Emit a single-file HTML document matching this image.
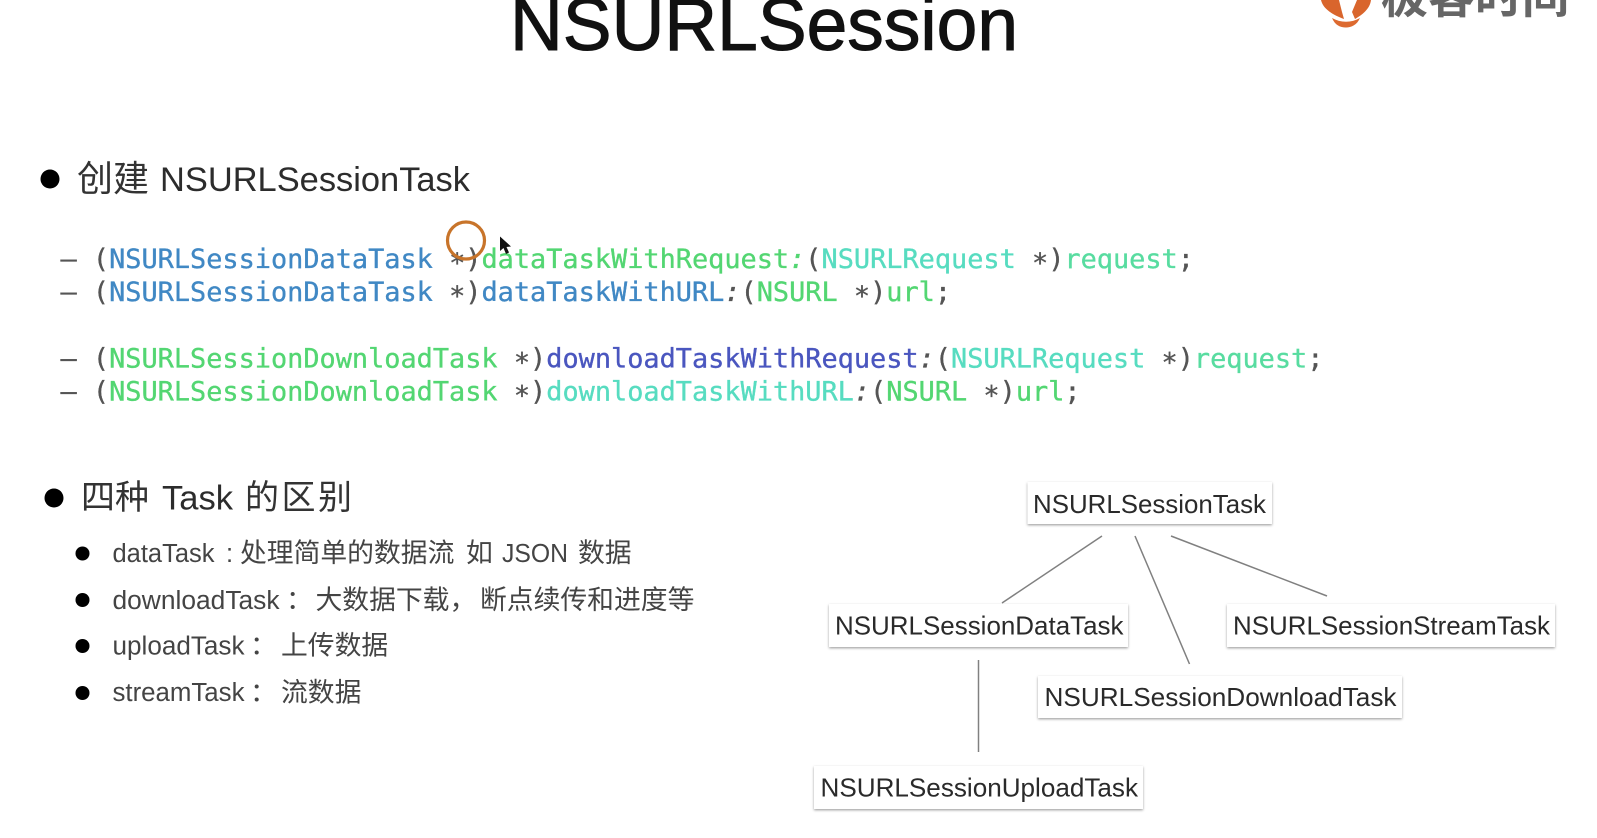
<!DOCTYPE html>
<html lang="zh">
<head>
<meta charset="utf-8">
<title>NSURLSession</title>
<style>
html,body{margin:0;padding:0;background:#fff;width:1597px;height:838px;overflow:hidden}
svg{display:block;filter:blur(.35px)}
.sans{font-family:"Liberation Sans","Noto Sans CJK SC",sans-serif}
.cjk{font-family:"Noto Sans CJK SC","WenQuanYi Zen Hei",sans-serif;font-weight:400}
.mono{font-family:"DejaVu Sans Mono","Liberation Mono",monospace;font-size:26.9px;fill:#555;stroke:#555;stroke-width:.35px}
.node{font-family:"Liberation Sans",sans-serif;font-size:26px;fill:#2a2a2a}
.h{font-size:34px;fill:#2c2c2c}
.s{font-size:25.5px;fill:#444}
.ch{font-size:34px;fill:#333}
.cs{font-size:26.8px;fill:#444}
.b{fill:#4088c4;stroke:#4088c4}.g{fill:#53d672;stroke:#53d672}.t{fill:#57dcc0;stroke:#57dcc0}.p{fill:#4a56bf;stroke:#4a56bf}.r{fill:#58dca0;stroke:#58dca0}
.c{font-style:italic}
</style>
</head>
<body>
<svg xmlns="http://www.w3.org/2000/svg" width="1597" height="838" viewBox="0 0 1597 838">
<defs>
<filter id="sh" x="-5%" y="-20%" width="110%" height="150%">
<feDropShadow dx="0" dy="1.2" stdDeviation="1.4" flood-color="#000" flood-opacity=".38"/>
</filter>
</defs>
<rect width="1597" height="838" fill="#fff"/>

<!-- Title -->
<text class="sans" x="510" y="50" font-size="74" fill="#111" stroke="#111" stroke-width="1" textLength="508" lengthAdjust="spacingAndGlyphs">NSURLSession</text>

<!-- Logo -->
<path d="M1321 0 H1371 C1370 9 1362 15 1355 19 L1352 12 L1357 0 H1339 L1342 12 L1344 19 C1333 15 1323 9 1321 0Z" fill="#d9652c"/>
<path d="M1332 18 C1341 23 1351 23 1360 18 C1357 25 1351 27.500 1346 27.500 C1340 27.500 1335 25 1332 18Z" fill="#dd6a30"/>
<text x="1381" y="13" font-family="'Noto Sans CJK SC',sans-serif" font-weight="700" font-size="47" fill="#666" textLength="188" lengthAdjust="spacingAndGlyphs">极客时间</text>

<!-- Heading 1 -->
<circle cx="50" cy="179" r="9.500" fill="#000"/>
<text class="cjk ch" x="77" y="191" style="font-size:36px">创建</text>
<text class="sans h" x="160" y="191" textLength="310" lengthAdjust="spacingAndGlyphs">NSURLSessionTask</text>

<!-- Code -->
<text class="mono" x="60.500" y="268"><tspan>– (</tspan><tspan class="b">NSURLSessionDataTask</tspan> <tspan dy="4">*</tspan><tspan dy="-4">)</tspan><tspan class="g">dataTaskWithRequest</tspan><tspan class="g c">:</tspan>(<tspan class="t">NSURLRequest</tspan> <tspan dy="4">*</tspan><tspan dy="-4">)</tspan><tspan class="r">request</tspan>;</text>
<text class="mono" x="60.500" y="301"><tspan>– (</tspan><tspan class="b">NSURLSessionDataTask</tspan> <tspan dy="4">*</tspan><tspan dy="-4">)</tspan><tspan class="b">dataTaskWithURL</tspan><tspan class="c">:</tspan>(<tspan class="g">NSURL</tspan> <tspan dy="4">*</tspan><tspan dy="-4">)</tspan><tspan class="g">url</tspan>;</text>
<text class="mono" x="60.500" y="367.500"><tspan>– (</tspan><tspan class="g">NSURLSessionDownloadTask</tspan> <tspan dy="4">*</tspan><tspan dy="-4">)</tspan><tspan class="p">downloadTaskWithRequest</tspan><tspan class="c">:</tspan>(<tspan class="t">NSURLRequest</tspan> <tspan dy="4">*</tspan><tspan dy="-4">)</tspan><tspan class="r">request</tspan>;</text>
<text class="mono" x="60.500" y="400.500"><tspan>– (</tspan><tspan class="g">NSURLSessionDownloadTask</tspan> <tspan dy="4">*</tspan><tspan dy="-4">)</tspan><tspan class="t">downloadTaskWithURL</tspan><tspan class="c">:</tspan>(<tspan class="g">NSURL</tspan> <tspan dy="4">*</tspan><tspan dy="-4">)</tspan><tspan class="g">url</tspan>;</text>

<!-- Highlight circle and cursor -->
<circle cx="466" cy="240.500" r="18.500" fill="none" stroke="#c8742a" stroke-width="3.200"/>
<path d="M500 236.500 L500 251 L503.500 248 L506 254 L509 252.500 L506.500 247 L511 246.500Z" fill="#111"/>

<!-- Heading 2 -->
<circle cx="54" cy="498" r="9.500" fill="#000"/>
<text class="cjk ch" x="81" y="509">四种</text>
<text class="sans h" x="162" y="509.500" textLength="71" lengthAdjust="spacingAndGlyphs">Task</text>
<text class="cjk ch" x="245" y="509" textLength="107" lengthAdjust="spacing">的区别</text>

<!-- Sub bullets -->
<circle cx="82.500" cy="553.500" r="7" fill="#000"/>
<text class="sans s" x="112.500" y="562" textLength="102" lengthAdjust="spacingAndGlyphs">dataTask</text>
<text class="sans s" x="226" y="562">:</text>
<text class="cjk cs" x="240" y="562">处理简单的数据流</text>
<text class="cjk cs" x="466" y="562">如</text>
<text class="sans s" x="502" y="562" textLength="66" lengthAdjust="spacingAndGlyphs">JSON</text>
<text class="cjk cs" x="578" y="562">数据</text>

<circle cx="82.500" cy="600" r="7" fill="#000"/>
<text class="sans s" x="112.500" y="609" textLength="167" lengthAdjust="spacingAndGlyphs">downloadTask</text>
<text class="cjk cs" x="286" y="609">：</text>
<text class="cjk cs" x="315.500" y="609">大数据下载，</text>
<text class="cjk cs" x="480" y="609">断点续传和进度等</text>

<circle cx="82.500" cy="646" r="7" fill="#000"/>
<text class="sans s" x="112.500" y="654.500" textLength="132" lengthAdjust="spacingAndGlyphs">uploadTask</text>
<text class="cjk cs" x="250" y="654.500">：</text>
<text class="cjk cs" x="281" y="654.500">上传数据</text>

<circle cx="82.500" cy="693" r="7" fill="#000"/>
<text class="sans s" x="112.500" y="701" textLength="132" lengthAdjust="spacingAndGlyphs">streamTask</text>
<text class="cjk cs" x="250" y="701.500">：</text>
<text class="cjk cs" x="281" y="701.500">流数据</text>

<!-- Connectors -->
<g stroke="#808080" stroke-width="1.500" fill="none">
<line x1="1102" y1="536" x2="1002" y2="603"/>
<line x1="1135" y1="536" x2="1189.500" y2="664"/>
<line x1="1171" y1="536" x2="1327" y2="596"/>
<line x1="978.500" y1="660" x2="978.500" y2="752"/>
</g>

<!-- Nodes -->
<g fill="#fff" filter="url(#sh)">
<rect x="1027.500" y="482" width="244.500" height="42"/>
<rect x="829" y="604" width="299" height="43"/>
<rect x="1227" y="604" width="328" height="43"/>
<rect x="1038" y="676" width="364" height="42"/>
<rect x="814" y="766" width="329" height="43"/>
</g>
<text class="node" x="1033" y="513" textLength="233" lengthAdjust="spacingAndGlyphs">NSURLSessionTask</text>
<text class="node" x="835" y="634.500" textLength="288.500" lengthAdjust="spacingAndGlyphs">NSURLSessionDataTask</text>
<text class="node" x="1233" y="634.500" textLength="317" lengthAdjust="spacingAndGlyphs">NSURLSessionStreamTask</text>
<text class="node" x="1044.500" y="706" textLength="352" lengthAdjust="spacingAndGlyphs">NSURLSessionDownloadTask</text>
<text class="node" x="820.500" y="796.500" textLength="317.500" lengthAdjust="spacingAndGlyphs">NSURLSessionUploadTask</text>
</svg>
</body>
</html>
